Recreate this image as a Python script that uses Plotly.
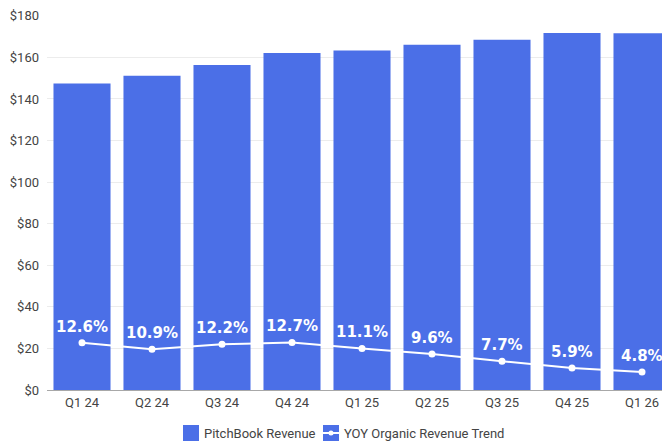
import plotly.graph_objects as go

quarters = ["Q1 24", "Q2 24", "Q3 24", "Q4 24", "Q1 25", "Q2 25", "Q3 25", "Q4 25", "Q1 26"]
revenue = [147.4, 151.2, 156.3, 162.1, 163.3, 166.1, 168.5, 171.8, 171.6]
yoy_growth = [12.6, 10.9, 12.2, 12.7, 11.1, 9.6, 7.7, 5.9, 4.8]
yoy_labels = [f"{v}%" for v in yoy_growth]
y_ticks = [0, 20, 40, 60, 80, 100, 120, 140, 160, 180]
y_tick_labels = [f"${v}" for v in y_ticks]

BLUE = "#4b6fe7"
OFF = 8  # default page body margin
W, H = 670 - OFF, 448 - OFF
# plot area in page pixels: x 47..670, y 15..390
L, R, T, B = 47 - OFF, 0, 15 - OFF, 448 - 390
PW, PH = W - L - R, H - T - B

def px(x):
    return (x - OFF - L) / PW

def py(y):
    return (H - B - (y - OFF)) / PH

fig = go.Figure()
fig.add_trace(go.Bar(
    x=quarters, y=revenue, marker=dict(color=BLUE, line=dict(width=0)),
    name="PitchBook Revenue", showlegend=False, hoverinfo="skip",
))
fig.add_trace(go.Scatter(
    x=quarters, y=yoy_growth, yaxis="y2", mode="lines+markers",
    line=dict(color="white", width=2), marker=dict(color="white", size=7),
    name="YOY Organic Revenue Trend", showlegend=False, hoverinfo="skip",
))
for q, v, t in zip(quarters, yoy_growth, yoy_labels):
    fig.add_annotation(x=q, y=v, xref="x", yref="y2", text=t, showarrow=False,
                       yshift=16, yanchor="middle",
                       font=dict(family="DejaVu Sans", size=15, color="white", weight="bold"))

tick_font = dict(family="Roboto", size=13, color="#444444")
fig.update_layout(
    width=W, height=H,
    margin=dict(l=L, r=R, t=T, b=B, pad=0, autoexpand=False),
    paper_bgcolor="white", plot_bgcolor="white",
    bargap=0.185,
    showlegend=False,
    xaxis=dict(range=[-0.5, 8.4], showgrid=False, showline=False, ticks="",
               tickfont=tick_font, ticklabelstandoff=3, automargin=False,
               ticklabeloverflow="allow"),
    yaxis=dict(range=[0, 180.4], tickvals=y_ticks, ticktext=y_tick_labels,
               showgrid=True, gridcolor="#ececec", gridwidth=1,
               zeroline=True, zerolinecolor="#a8a8a8", zerolinewidth=1,
               showline=False, ticks="", tickfont=tick_font, ticklabelstandoff=7,
               automargin=False, ticklabeloverflow="allow"),
    yaxis2=dict(range=[0, 100.22], overlaying="y", visible=False),
)

# manual legend
legend_font = dict(family="Roboto", size=13, color="#444444")
fig.add_shape(type="rect", xref="paper", yref="paper",
              x0=px(183), x1=px(199), y0=py(441), y1=py(425),
              fillcolor=BLUE, line=dict(width=0))
fig.add_annotation(x=px(202), y=py(433), xref="paper", yref="paper",
                   text="PitchBook Revenue", showarrow=False, xanchor="left",
                   yanchor="middle", font=legend_font)
fig.add_shape(type="rect", xref="paper", yref="paper",
              x0=px(323), x1=px(339), y0=py(441), y1=py(425),
              fillcolor=BLUE, line=dict(width=0))
fig.add_shape(type="line", xref="paper", yref="paper",
              x0=px(323), x1=px(339), y0=py(433), y1=py(433),
              line=dict(color="white", width=2))
fig.add_shape(type="circle", xref="paper", yref="paper",
              x0=px(328.5), x1=px(333.5), y0=py(435.5), y1=py(430.5),
              fillcolor="white", line=dict(width=0))
fig.add_annotation(x=px(342), y=py(433), xref="paper", yref="paper",
                   text="YOY Organic Revenue Trend", showarrow=False, xanchor="left",
                   yanchor="middle", font=legend_font)

fig.write_html("out.html")
